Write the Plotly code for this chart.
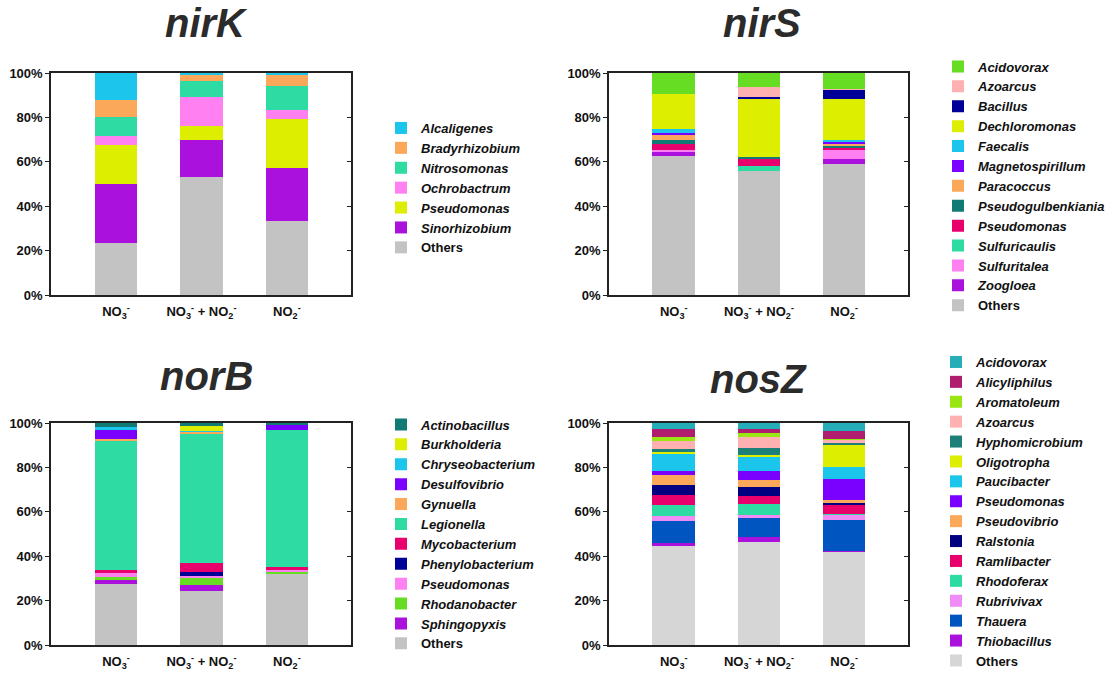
import plotly.graph_objects as go

# ---------------- data ----------------
treatments = ["NO3", "NO3+NO2", "NO2"]
treatment_labels = ["NO<sub>3</sub><sup>-</sup>",
                    "NO<sub>3</sub><sup>-</sup> + NO<sub>2</sub><sup>-</sup>",
                    "NO<sub>2</sub><sup>-</sup>"]
percent_ticks = [0, 20, 40, 60, 80, 100]

nirK_genera = ["Alcaligenes", "Bradyrhizobium", "Nitrosomonas", "Ochrobactrum",
               "Pseudomonas", "Sinorhizobium", "Others"]
nirK_colors = ["#1BC5EB", "#FBA85B", "#2EDBA3", "#FF80F0", "#DDEE00", "#AA11DD", "#C3C3C3"]
nirK_values = [[12.0, 1.0, 0.9], [7.8, 2.8, 5.1], [8.6, 7.0, 10.8], [3.9, 13.1, 3.7],
               [17.6, 6.2, 22.2], [26.5, 16.7, 24.1], [23.6, 53.2, 33.2]]

nirS_genera = ["Acidovorax", "Azoarcus", "Bacillus", "Dechloromonas", "Faecalis",
               "Magnetospirillum", "Paracoccus", "Pseudogulbenkiania", "Pseudomonas",
               "Sulfuricaulis", "Sulfuritalea", "Zoogloea", "Others"]
nirS_colors = ["#66DD22", "#FFB0B0", "#000099", "#DDEE00", "#1BC5EB", "#7A00FF", "#FBA85B",
               "#127A74", "#E8006C", "#2EDBA3", "#FF80F0", "#AA11DD", "#C3C3C3"]
nirS_values = [[9.4, 6.4, 7.2], [0.0, 4.4, 0.3], [0.0, 0.9, 4.2], [15.9, 26.2, 18.4],
               [1.8, 0.0, 0.6], [0.6, 0.0, 1.5], [2.4, 0.0, 0.9], [2.1, 0.9, 0.6],
               [2.7, 3.3, 0.9], [0.0, 2.1, 0.0], [0.6, 0.0, 4.2], [2.1, 0.0, 2.4],
               [62.4, 55.8, 58.8]]

norB_genera = ["Actinobacillus", "Burkholderia", "Chryseobacterium", "Desulfovibrio",
               "Gynuella", "Legionella", "Mycobacterium", "Phenylobacterium",
               "Pseudomonas", "Rhodanobacter", "Sphingopyxis", "Others"]
norB_colors = ["#127A74", "#DDEE00", "#1BC5EB", "#7A00FF", "#FBA85B", "#2EDBA3", "#E8006C",
               "#000099", "#FF80F0", "#66DD22", "#AA11DD", "#C3C3C3"]
norB_values = [[2.0, 1.4, 0.6], [0.0, 2.0, 0.0], [1.3, 0.4, 0.0], [3.9, 0.0, 2.6],
               [0.5, 1.2, 0.0], [58.5, 58.2, 61.5], [1.5, 4.0, 1.5], [0.0, 1.8, 0.0],
               [1.8, 0.5, 0.6], [1.2, 3.4, 1.2], [1.8, 2.7, 0.0], [27.5, 24.4, 32.0]]

nosZ_genera = ["Acidovorax", "Alicyliphilus", "Aromatoleum", "Azoarcus", "Hyphomicrobium",
               "Oligotropha", "Paucibacter", "Pseudomonas", "Pseudovibrio", "Ralstonia",
               "Ramlibacter", "Rhodoferax", "Rubrivivax", "Thauera", "Thiobacillus", "Others"]
nosZ_colors = ["#26AEB8", "#B01C6E", "#99E614", "#FFB0B0", "#1C8078", "#DDEE00", "#1BC5EB",
               "#7A00FF", "#FBA85B", "#000080", "#E8006C", "#2EDBA3", "#F08CF5", "#0055C0",
               "#AA11DD", "#D6D6D6"]
nosZ_values = [[2.7, 2.6, 3.5], [3.5, 1.9, 3.5], [1.9, 2.0, 0.5], [3.5, 4.8, 1.4],
               [1.3, 3.1, 0.9], [0.9, 0.6, 10.2], [8.0, 6.5, 5.1], [1.8, 4.1, 9.5],
               [4.4, 3.4, 1.5], [4.3, 4.1, 1.0], [4.5, 3.3, 3.7], [5.3, 5.0, 0.6],
               [2.0, 1.2, 2.2], [10.0, 8.8, 14.1], [1.5, 2.0, 0.2], [44.4, 46.6, 42.1]]

panel_titles = ["nirK", "nirS", "norB", "nosZ"]

# ---------------- figure ----------------
W, H = 1115, 677
FONT = "Liberation Sans, Arial, sans-serif"

def px_x(v):
    return v / W

def px_y(v):
    return 1 - v / H

panels = [
    (nirK_genera, nirK_colors, nirK_values, "x", "y", "legend"),
    (nirS_genera, nirS_colors, nirS_values, "x2", "y2", "legend2"),
    (norB_genera, norB_colors, norB_values, "x3", "y3", "legend3"),
    (nosZ_genera, nosZ_colors, nosZ_values, "x4", "y4", "legend4"),
]

fig = go.Figure()
for genera, colors, values, xa, ya, lg in panels:
    # stack from bottom (Others) to top (first legend entry)
    for name, col, vals in reversed(list(zip(genera, colors, values))):
        label = name if name == "Others" else "<i>%s</i>" % name
        fig.add_trace(go.Bar(
            x=treatments, y=vals, name=label, marker=dict(color=col, line=dict(width=0)),
            width=0.5, xaxis=xa, yaxis=ya, legend=lg,
            hovertemplate=name + ": %{y:.1f}%<extra></extra>"))

# empty traces to attach right-side (inward tick) axes
for i, xa in zip(range(5, 9), ["x", "x2", "x3", "x4"]):
    fig.add_trace(go.Scatter(x=[], y=[], xaxis=xa, yaxis="y%d" % i, showlegend=False,
                             hoverinfo="skip"))

xdom_left = [px_x(51), px_x(351)]
xdom_right = [px_x(609), px_x(908)]
ydom_top = [px_y(295), px_y(73)]
ydom_bot = [px_y(645), px_y(423)]
doms = [(xdom_left, ydom_top), (xdom_right, ydom_top), (xdom_left, ydom_bot), (xdom_right, ydom_bot)]

tickfont = dict(family=FONT, size=13, color="#111111", weight="bold")
layout = dict(
    width=W, height=H, paper_bgcolor="white", plot_bgcolor="white",
    margin=dict(l=0, r=0, t=0, b=0, autoexpand=False),
    barmode="stack", bargap=0, showlegend=True,
    font=dict(family=FONT, size=13, color="#111111"),
)
for i, (xd, yd) in enumerate(doms, start=1):
    sx = "" if i == 1 else str(i)
    layout["xaxis" + sx] = dict(
        domain=xd, anchor="y" + sx, range=[-0.76, 2.75], type="category",
        tickmode="array", tickvals=treatments, ticktext=treatment_labels,
        showline=True, linecolor="#222222", linewidth=1.5, mirror=True,
        ticks="", tickfont=tickfont, showgrid=False, zeroline=False,
        ticklabelstandoff=4, fixedrange=True)
    layout["yaxis" + sx] = dict(
        domain=yd, anchor="x" + sx, range=[0, 100], tickmode="array",
        tickvals=percent_ticks, ticktext=["%d%%" % t for t in percent_ticks],
        showline=True, linecolor="#222222", linewidth=1.5, mirror=True,
        ticks="outside", ticklen=4, tickwidth=1, tickcolor="#222222",
        tickfont=tickfont, showgrid=False, zeroline=False, fixedrange=True)
    layout["yaxis%d" % (i + 4)] = dict(
        overlaying="y" + sx, anchor="x" + sx, side="right", range=[0, 100],
        tickmode="array", tickvals=percent_ticks, showticklabels=False,
        ticks="inside", ticklen=4, tickwidth=1, tickcolor="#222222",
        showline=False, showgrid=False, zeroline=False, fixedrange=True)

legend_common = dict(
    xref="paper", yref="paper", xanchor="left", bgcolor="rgba(0,0,0,0)",
    font=dict(family=FONT, size=13, color="#111111", weight="bold"),
    traceorder="reversed", itemclick=False, itemdoubleclick=False)
layout["legend"] = dict(legend_common, x=px_x(381), y=px_y(188), yanchor="middle")
layout["legend2"] = dict(legend_common, x=px_x(938), y=px_y(186), yanchor="middle")
layout["legend3"] = dict(legend_common, x=px_x(381), y=px_y(534), yanchor="middle")
layout["legend4"] = dict(legend_common, x=px_x(936), y=px_y(676), yanchor="bottom")

title_pos = [(206, 23), (762, 23), (206, 376), (758, 379)]
annotations = []
for t, (cx, cy) in zip(panel_titles, title_pos):
    annotations.append(dict(
        text=t, xref="paper", yref="paper", x=px_x(cx), y=px_y(cy),
        xanchor="center", yanchor="middle", showarrow=False,
        font=dict(family=FONT, size=40, color="#2b2b2b", weight="bold", style="italic")))
layout["annotations"] = annotations

fig.update_layout(**layout)
fig.write_html("out.html", config={"displayModeBar": False},
               post_script="document.body.style.margin='0';document.body.style.padding='0';")
